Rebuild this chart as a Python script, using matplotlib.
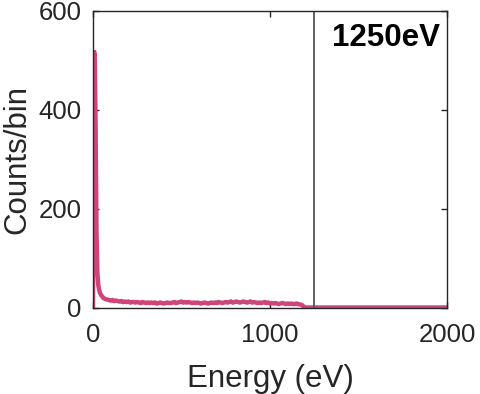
import matplotlib
matplotlib.use("Agg")
import matplotlib.pyplot as plt

plt.rcParams["font.family"] = ["Liberation Sans", "DejaVu Sans"]

# ── spectrum values ───────────────────────────────────────────────────────────
spike_energy = [0, 5, 10, 15, 20, 25, 30, 35]
spike_counts = [0, 520, 512, 360, 150, 72, 46, 36]

flat_energy = list(range(40, 1210, 10))
flat_counts = [
    30, 24, 20, 18, 17, 16, 15, 16, 14, 15,
    14, 13, 14, 12, 13, 12, 13, 11, 12, 12,
    11, 12, 11, 10, 12, 11, 10, 11, 10, 11,
    10, 11, 9, 10, 11, 10, 9, 10, 11, 10,
    10, 11, 12, 10, 11, 12, 13, 11, 12, 11,
    12, 11, 10, 11, 10, 11, 10, 9, 10, 11,
    10, 9, 10, 11, 10, 11, 10, 12, 11, 10,
    11, 12, 11, 12, 13, 11, 12, 13, 12, 11,
    12, 13, 12, 11, 12, 13, 11, 12, 11, 10,
    11, 10, 11, 12, 10, 11, 9, 10, 9, 10,
    9, 8, 9, 10, 9, 8, 9, 8, 9, 8,
    8, 9, 8, 7, 6, 3, 1,
]

tail_energy = [1250, 1300, 1400, 1500, 1600, 1700, 1800, 1900, 2000]
tail_counts = [1, 1, 1, 1, 1, 1, 1, 1, 1]

energy = spike_energy + flat_energy + tail_energy
counts = spike_counts + flat_counts + tail_counts

beam_energy = 1250

fig = plt.figure(figsize=(4.81, 3.94), dpi=100)
ax = fig.add_axes([0.1933, 0.2183, 0.736, 0.754])

ax.plot(energy, counts, color="#CE4679", lw=3.2, solid_joinstyle="miter")
ax.axvline(beam_energy, color="#555555", lw=1.3)

ax.set_xlim(0, 2000)
ax.set_ylim(0, 600)
ax.set_xticks([0, 1000, 2000])
ax.set_yticks([0, 200, 400, 600])
ax.tick_params(direction="in", length=4, width=1, labelsize=18.5,
               colors="#262626", top=True, right=True)
ax.tick_params(axis="x", pad=11)
ax.tick_params(axis="y", pad=8)
for s in ax.spines.values():
    s.set_color("#262626")
    s.set_linewidth(1)

ax.set_xlabel("Energy (eV)", fontsize=22.5, color="#262626", labelpad=12)
ax.set_ylabel("Counts/bin", fontsize=22.5, color="#262626", labelpad=4.5)
ax.text(0.98, 0.96, "1250eV", transform=ax.transAxes, ha="right", va="top",
        fontsize=22.5, fontweight="bold", color="black")

fig.savefig("out.png", dpi=100)
